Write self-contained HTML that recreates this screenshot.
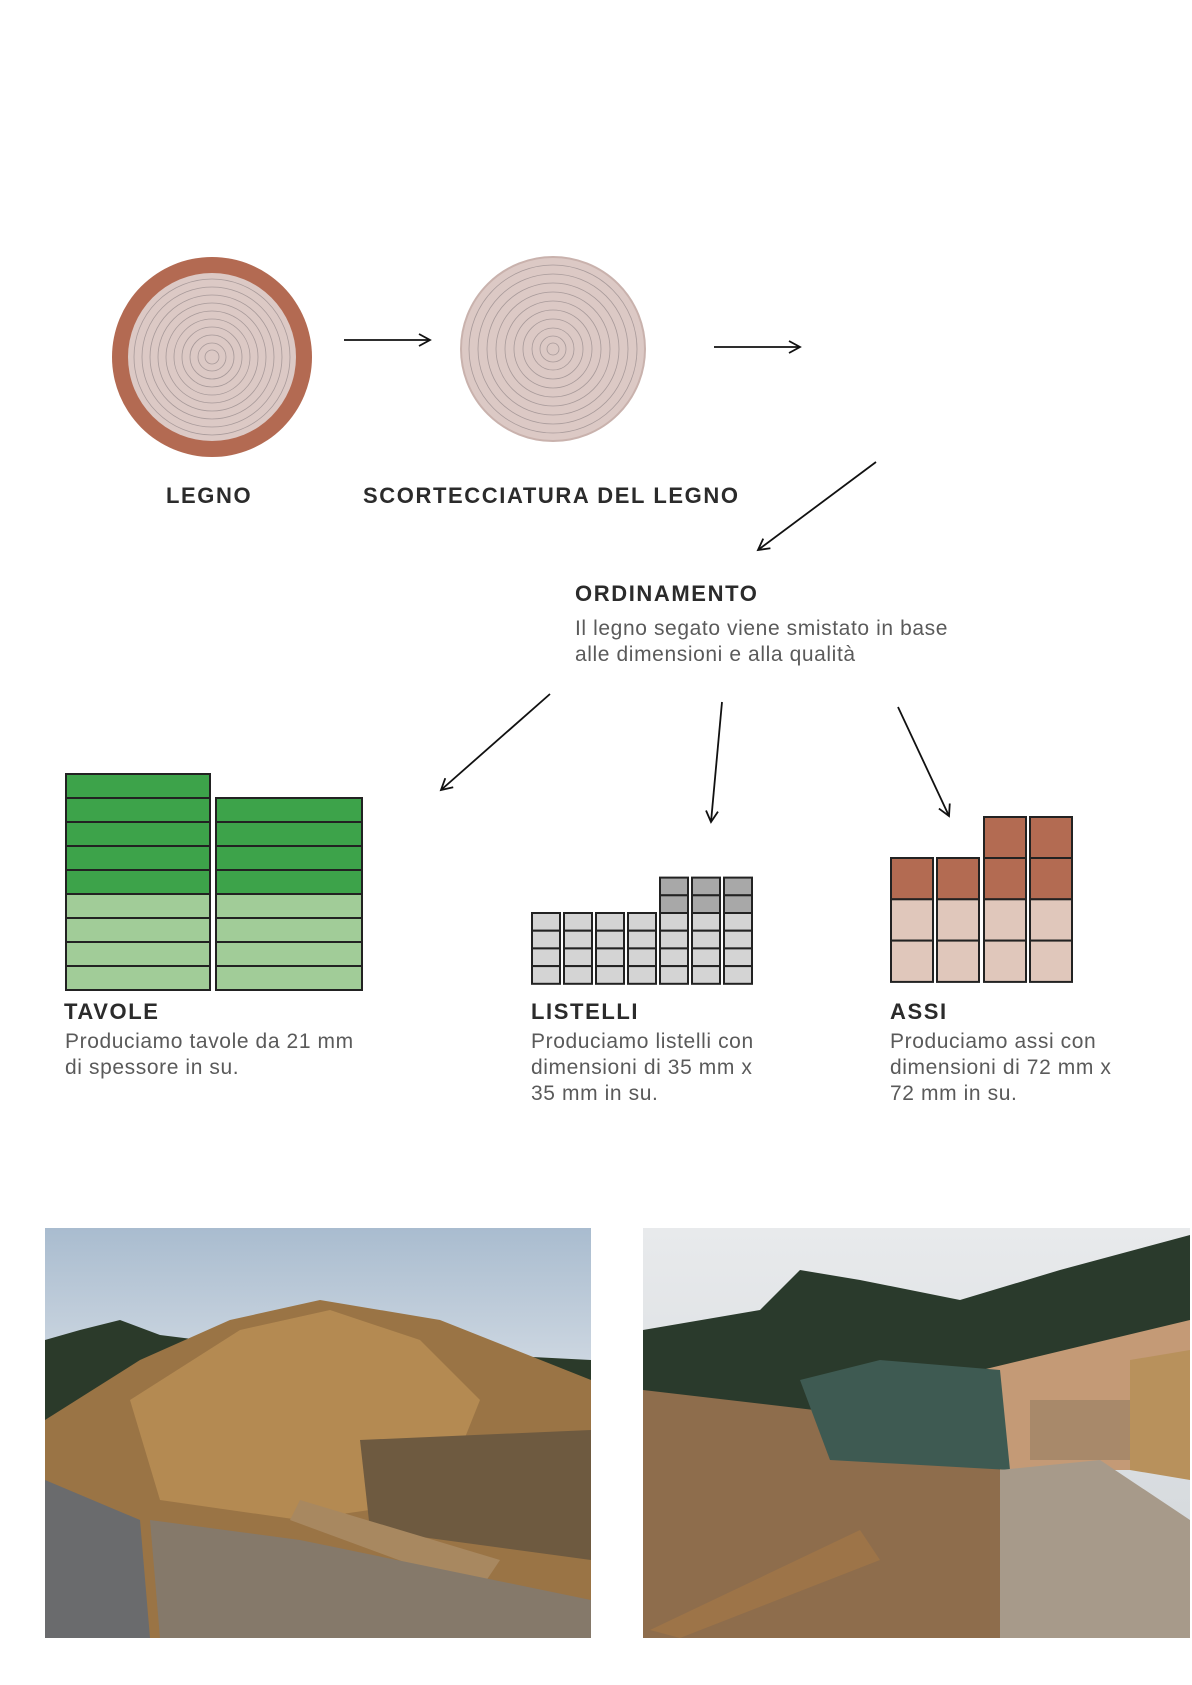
<!DOCTYPE html>
<html><head><meta charset="utf-8"><style>
html,body{margin:0;padding:0;background:#fff;}
body{width:1192px;height:1685px;position:relative;overflow:hidden;font-family:"Liberation Sans",sans-serif;}
.t{position:absolute;white-space:nowrap;}
.h{font-size:22px;font-weight:bold;color:#2b2b2b;letter-spacing:1.6px;}
.p{font-size:21px;color:#5a5a5a;line-height:26px;letter-spacing:0.6px;}
</style></head><body>
<svg width="1192" height="1685" style="position:absolute;left:0;top:0">
<defs>
<marker id="a" markerWidth="14" markerHeight="14" refX="12" refY="7" orient="auto" markerUnits="userSpaceOnUse">
<path d="M1,1 L12,7 L1,13" fill="none" stroke="#111" stroke-width="1.8"/></marker>
<linearGradient id="sky1" x1="0" y1="0" x2="0" y2="1"><stop offset="0" stop-color="#a9bccf"/><stop offset="0.5" stop-color="#dfe4ea"/><stop offset="1" stop-color="#c8d0d8"/></linearGradient>
<linearGradient id="sky2" x1="0" y1="0" x2="0" y2="1"><stop offset="0" stop-color="#e8eaec"/><stop offset="1" stop-color="#cfd4d8"/></linearGradient>
</defs>
<circle cx="212" cy="357" r="100" fill="#b36a52"/>
<circle cx="212" cy="357" r="84" fill="#dcc9c5"/>
<g fill="none" stroke="#a89a9a" stroke-width="0.8">
<circle cx="212" cy="357" r="78"/><circle cx="212" cy="357" r="70"/><circle cx="212" cy="357" r="62"/><circle cx="212" cy="357" r="54"/><circle cx="212" cy="357" r="46"/><circle cx="212" cy="357" r="38"/><circle cx="212" cy="357" r="30"/><circle cx="212" cy="357" r="22"/><circle cx="212" cy="357" r="14"/><circle cx="212" cy="357" r="7"/></g>
<circle cx="553" cy="349" r="92" fill="#dcc9c5" stroke="#c9b2ad" stroke-width="2"/>
<g fill="none" stroke="#a89a9a" stroke-width="0.8">
<circle cx="553" cy="349" r="84"/><circle cx="553" cy="349" r="75"/><circle cx="553" cy="349" r="66"/><circle cx="553" cy="349" r="57"/><circle cx="553" cy="349" r="48"/><circle cx="553" cy="349" r="39"/><circle cx="553" cy="349" r="30"/><circle cx="553" cy="349" r="21"/><circle cx="553" cy="349" r="13"/><circle cx="553" cy="349" r="6"/></g>
<g stroke="#111" stroke-width="1.8" fill="none" marker-end="url(#a)">
<line x1="344" y1="340" x2="430" y2="340"/>
<line x1="714" y1="347" x2="800" y2="347"/>
<line x1="876" y1="462" x2="758" y2="550"/>
<line x1="550" y1="694" x2="441" y2="790"/>
<line x1="722" y1="702" x2="711" y2="822"/>
<line x1="898" y1="707" x2="949" y2="816"/>
</g>
<g stroke="#222" stroke-width="2">
<rect x="66" y="774" width="144" height="24" fill="#3da34a"/>
<rect x="66" y="798" width="144" height="24" fill="#3da34a"/>
<rect x="66" y="822" width="144" height="24" fill="#3da34a"/>
<rect x="66" y="846" width="144" height="24" fill="#3da34a"/>
<rect x="66" y="870" width="144" height="24" fill="#3da34a"/>
<rect x="66" y="894" width="144" height="24" fill="#a1cc98"/>
<rect x="66" y="918" width="144" height="24" fill="#a1cc98"/>
<rect x="66" y="942" width="144" height="24" fill="#a1cc98"/>
<rect x="66" y="966" width="144" height="24" fill="#a1cc98"/>
<rect x="216" y="798" width="146" height="24" fill="#3da34a"/>
<rect x="216" y="822" width="146" height="24" fill="#3da34a"/>
<rect x="216" y="846" width="146" height="24" fill="#3da34a"/>
<rect x="216" y="870" width="146" height="24" fill="#3da34a"/>
<rect x="216" y="894" width="146" height="24" fill="#a1cc98"/>
<rect x="216" y="918" width="146" height="24" fill="#a1cc98"/>
<rect x="216" y="942" width="146" height="24" fill="#a1cc98"/>
<rect x="216" y="966" width="146" height="24" fill="#a1cc98"/>
</g>
<g stroke="#222" stroke-width="2" fill="#d4d4d4">
<g id="sc"><rect x="532" y="913" width="28" height="17.7"/><rect x="532" y="930.7" width="28" height="17.7"/><rect x="532" y="948.4" width="28" height="17.7"/><rect x="532" y="966.1" width="28" height="17.7"/></g>
<use href="#sc" x="32"/><use href="#sc" x="64"/><use href="#sc" x="96"/><use href="#sc" x="128"/><use href="#sc" x="160"/><use href="#sc" x="192"/>
<g id="tc" fill="#a8a8a8"><rect x="660" y="877.6" width="28" height="17.7"/><rect x="660" y="895.3" width="28" height="17.7"/></g>
<use href="#tc" x="32"/><use href="#tc" x="64"/>
</g>
<g stroke="#222" stroke-width="2">
<g id="ac"><rect x="891" y="858" width="42" height="41.3" fill="#b36b52"/><rect x="891" y="899.3" width="42" height="41.3" fill="#e0c7bb"/><rect x="891" y="940.6" width="42" height="41.3" fill="#e0c7bb"/></g>
<use href="#ac" x="46"/><use href="#ac" x="93"/><use href="#ac" x="139"/>
<rect x="984" y="817" width="42" height="41" fill="#b36b52"/>
<rect x="1030" y="817" width="42" height="41" fill="#b36b52"/>
</g>
<g>
<rect x="45" y="1228" width="546" height="410" fill="url(#sky1)"/>
<path d="M45,1340 L80,1330 L120,1320 L160,1335 L200,1340 L591,1360 L591,1638 L45,1638Z" fill="#2b3a2a"/>
<path d="M45,1420 L140,1360 L230,1320 L320,1300 L440,1320 L591,1380 L591,1638 L45,1638Z" fill="#9a7445"/>
<path d="M130,1400 L240,1330 L330,1310 L420,1340 L480,1400 L440,1500 L300,1520 L160,1500Z" fill="#b48a52"/>
<path d="M360,1440 L591,1430 L591,1560 L370,1530Z" fill="#6e5a40"/>
<path d="M290,1520 L480,1590 L500,1560 L300,1500Z" fill="#a88860"/>
<path d="M45,1480 L140,1520 L150,1638 L45,1638Z" fill="#6a6b6d"/>
<path d="M150,1520 L300,1540 L591,1600 L591,1638 L160,1638Z" fill="#85796a"/>
</g>
<g>
<rect x="643" y="1228" width="547" height="410" fill="url(#sky2)"/>
<path d="M643,1330 L760,1310 L800,1270 L860,1280 L960,1300 L1060,1270 L1190,1235 L1190,1420 L643,1420Z" fill="#2a3a2c"/>
<path d="M940,1380 L1190,1320 L1190,1470 L960,1470Z" fill="#c49a76"/>
<path d="M643,1390 L900,1420 L1000,1460 L1000,1638 L643,1638Z" fill="#8e6d4c"/>
<path d="M800,1380 L880,1360 L1000,1370 L1010,1470 L830,1460Z" fill="#3e5a52"/>
<path d="M1000,1470 L1100,1460 L1190,1520 L1190,1638 L1000,1638Z" fill="#a79a8a"/>
<path d="M1130,1360 L1190,1350 L1190,1480 L1130,1470Z" fill="#b8915c"/>
<path d="M1030,1400 L1130,1400 L1130,1460 L1030,1460Z" fill="#a8896a"/>
<path d="M650,1630 L860,1530 L880,1560 L680,1638Z" fill="#9d7448"/>
</g>
</svg>
<div class="t h" style="left:166px;top:483px;">LEGNO</div>
<div class="t h" style="left:363px;top:483px;">SCORTECCIATURA DEL LEGNO</div>
<div class="t h" style="left:575px;top:581px;">ORDINAMENTO</div>
<div class="t p" style="left:575px;top:616px;">Il legno segato viene smistato in base<br>alle dimensioni e alla qualità</div>
<div class="t h" style="left:64px;top:999px;">TAVOLE</div>
<div class="t p" style="left:65px;top:1029px;">Produciamo tavole da 21 mm<br>di spessore in su.</div>
<div class="t h" style="left:531px;top:999px;">LISTELLI</div>
<div class="t p" style="left:531px;top:1029px;">Produciamo listelli con<br>dimensioni di 35 mm x<br>35 mm in su.</div>
<div class="t h" style="left:890px;top:999px;">ASSI</div>
<div class="t p" style="left:890px;top:1029px;">Produciamo assi con<br>dimensioni di 72 mm x<br>72 mm in su.</div>
</body></html>
